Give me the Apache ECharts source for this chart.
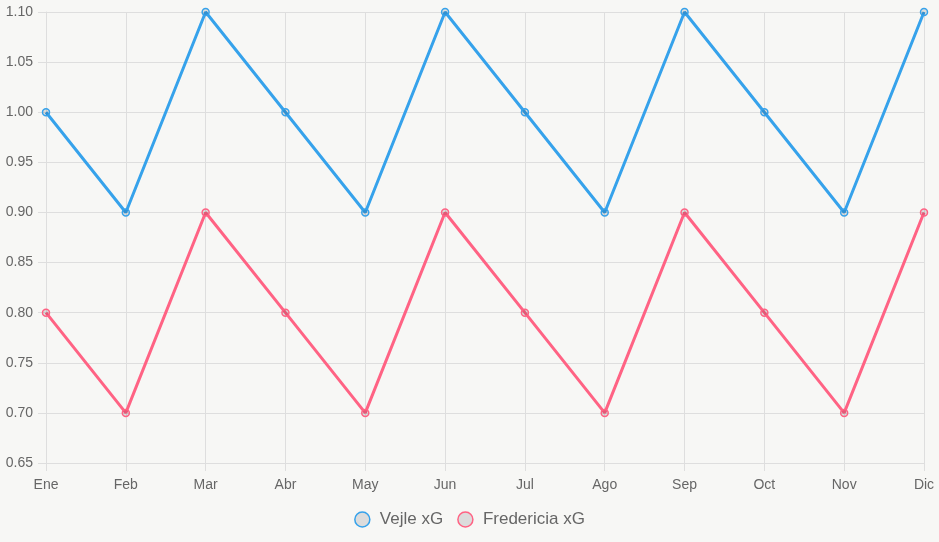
<!DOCTYPE html>
<html>
<head>
<meta charset="utf-8">
<script src="https://cdn.jsdelivr.net/npm/echarts@6/dist/echarts.min.js"></script>
<style>
  html, body { margin: 0; padding: 0; background: #f7f7f5; }
  #chart { width: 939px; height: 542px; }
</style>
</head>
<body>
<div id="chart"></div>
<script>
const months = ['Ene', 'Feb', 'Mar', 'Abr', 'May', 'Jun', 'Jul', 'Ago', 'Sep', 'Oct', 'Nov', 'Dic']
const vejleXG = [1.0, 0.9, 1.1, 1.0, 0.9, 1.1, 1.0, 0.9, 1.1, 1.0, 0.9, 1.1]
const fredericiaXG = [0.8, 0.7, 0.9, 0.8, 0.7, 0.9, 0.8, 0.7, 0.9, 0.8, 0.7, 0.9]

const gridColor = '#dedede'
const textColor = '#666'
const font = 'Liberation Sans, Arial, sans-serif'

const makeSeries = (name, data, color) => ({
  name: name,
  type: 'line',
  data: data,
  symbol: 'circle',
  symbolSize: 7,
  itemStyle: { color: 'rgba(0,0,0,0.1)', borderColor: color, borderWidth: 1.5 },
  lineStyle: { color: color, width: 3 },
  emphasis: { disabled: true },
})

const chart = echarts.init(document.getElementById('chart'))
chart.setOption({
  backgroundColor: '#f7f7f5',
  animation: false,
  grid: { left: 46, right: 15, top: 12, bottom: 79 },
  legend: {
    bottom: 9,
    left: 'center',
    itemWidth: 15,
    itemHeight: 15,
    itemGap: 14,
    icon: 'circle',
    textStyle: { color: textColor, fontSize: 17, fontFamily: font, padding: [0, 0, 0, 5] },
    data: [
      { name: 'Vejle xG', itemStyle: { color: '#dcdcdc', borderColor: '#36a2eb', borderWidth: 1.5 } },
      { name: 'Fredericia xG', itemStyle: { color: '#dcdcdc', borderColor: '#ff6384', borderWidth: 1.5 } },
    ],
  },
  xAxis: {
    type: 'category',
    boundaryGap: false,
    data: months,
    axisLine: { lineStyle: { color: gridColor } },
    axisTick: { show: true, length: 8, lineStyle: { color: gridColor } },
    axisLabel: { color: textColor, fontSize: 14, fontFamily: font, margin: 15 },
    splitLine: { show: true, lineStyle: { color: gridColor } },
  },
  yAxis: {
    type: 'value',
    min: 0.65,
    max: 1.1,
    interval: 0.05,
    axisLine: { show: true, lineStyle: { color: gridColor } },
    axisTick: { show: true, length: 8, lineStyle: { color: gridColor } },
    axisLabel: {
      color: textColor,
      fontSize: 14,
      fontFamily: font,
      margin: 13,
      formatter: (v) => v.toFixed(2),
    },
    splitLine: { lineStyle: { color: gridColor } },
  },
  series: [
    makeSeries('Vejle xG', vejleXG, '#36a2eb'),
    makeSeries('Fredericia xG', fredericiaXG, '#ff6384'),
  ],
})
</script>
</body>
</html>
